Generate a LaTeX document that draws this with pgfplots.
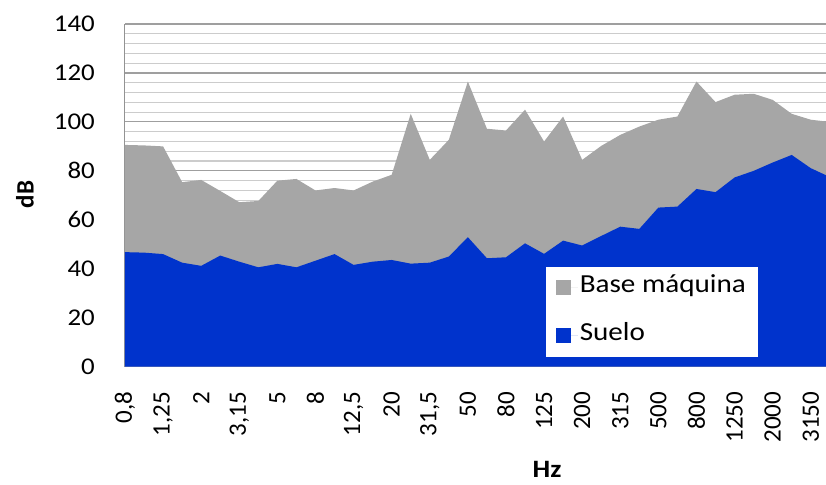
\documentclass[border=0pt]{standalone}
\usepackage{fontspec}
\setmainfont{Carlito}
\newfontfamily\wide{Carlito}[FakeStretch=1.12]
\usepackage{pgfplots}
\pgfplotsset{compat=1.18}
\definecolor{basegray}{RGB}{166,166,166}
\definecolor{suelo}{RGB}{0,51,204}
\begin{document}
\begin{tikzpicture}
\begin{axis}[
  at={(0,0)}, anchor=south west,
  scale only axis, width=701pt, height=342.7pt,
  xmin=0, xmax=36.8, ymin=0, ymax=140,
  axis lines*=left,
  axis line style={draw=gray!85, line width=1pt},
  xtick={0,2,...,36},
  xticklabels={{0,8},{1,25},2,{3,15},5,8,{12,5},20,{31,5},50,80,125,200,315,500,800,1250,2000,3150},
  ytick={0,20,...,140},
  yticklabels={0,20,40,60,80,100,120,140},
  minor y tick num=4,
  ymajorgrids, yminorgrids,
  major grid style={draw=gray!75, line width=1.1pt},
  minor grid style={draw=gray!40, line width=1.2pt},
  major tick length=0pt, minor tick length=0pt,
  xticklabel style={rotate=90, anchor=east, inner sep=0pt, font=\fontsize{25}{30}\selectfont},
  xticklabel shift=25pt,
  yticklabel style={anchor=east, inner sep=0pt, font=\wide\fontsize{24}{30}\selectfont},
  yticklabel shift=30pt,
  xlabel={\textbf{Hz}},
  ylabel={\textbf{dB}},
  xlabel style={at={(axis description cs:0.602,-0.300)}, anchor=center, font=\wide\fontsize{25}{30}\selectfont},
  ylabel style={at={(axis description cs:-0.1427,0.502)}, anchor=center, rotate=0, font=\fontsize{25}{30}\selectfont},
  legend style={at={(axis description cs:0.903,0.029)}, anchor=south east, draw=none, fill=white,
    font=\wide\fontsize{26}{30}\selectfont, inner xsep=10pt, inner ysep=12pt, row sep=30.5pt,
    nodes={inner xsep=2pt, inner ysep=0pt, text height=13pt, text depth=4.5pt}},
  legend cell align=left,
  legend image code/.code={\fill[#1] (0pt,-7.5pt) rectangle (15pt,7.5pt); \path (0pt,0pt) -- (22pt,0pt);},
]
\addplot[fill=basegray, draw=none] coordinates {
(0,90.6) (1,90.4) (2,90.0) (3,75.4) (4,76.3) (5,71.8) (6,67.2) (7,67.7) (8,76.0) (9,76.7)
(10,72.0) (11,73.0) (12,72.0) (13,75.6) (14,78.4) (15,103.3) (16,84.5) (17,92.7) (18,116.5) (19,97.2)
(20,96.5) (21,105.0) (22,92.0) (23,102.2) (24,84.5) (25,90.2) (26,94.7) (27,98.1) (28,100.9) (29,102.2)
(30,116.5) (31,108.1) (32,111.1) (33,111.5) (34,109.0) (35,103.3) (36,100.9) (37,100.0)
} \closedcycle;
\addlegendentry{Base máquina}
\addplot[fill=suelo, draw=none] coordinates {
(0,46.8) (1,46.6) (2,46.0) (3,42.5) (4,41.2) (5,45.4) (6,42.9) (7,40.6) (8,42.0) (9,40.6)
(10,43.3) (11,46.0) (12,41.6) (13,42.9) (14,43.6) (15,42.1) (16,42.5) (17,45.0) (18,52.9) (19,44.3)
(20,44.7) (21,50.4) (22,46.1) (23,51.5) (24,49.5) (25,53.4) (26,57.2) (27,56.3) (28,65.0) (29,65.4)
(30,72.6) (31,71.3) (32,77.3) (33,80.0) (34,83.4) (35,86.5) (36,81.1) (37,77.5)
} \closedcycle;
\addlegendentry{Suelo}
\end{axis}
\pgfresetboundingbox
\path[use as bounding box] (-125pt,-117.3pt) rectangle (701pt,366.7pt);
\end{tikzpicture}
\end{document}
